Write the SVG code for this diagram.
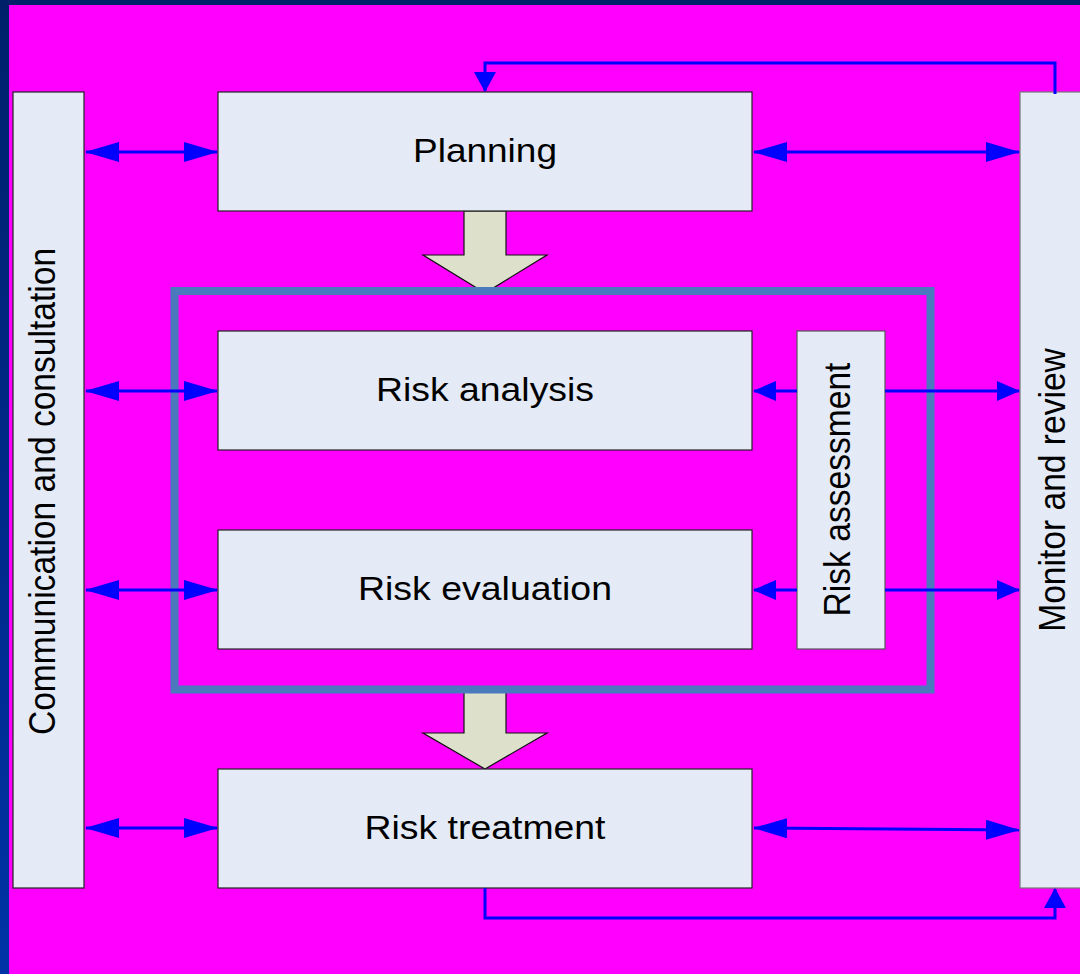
<svg xmlns="http://www.w3.org/2000/svg" width="1080" height="974" viewBox="0 0 1080 974">
<style>
.box{fill:#e4ebf6;stroke:#222;stroke-width:1.2}
.boxg{fill:#e4ebf6;stroke:#777;stroke-width:1.2}
.blk{fill:#dde1cc;stroke:#111;stroke-width:1.2}
.con{fill:none;stroke:#0000ff;stroke-width:3}
.t{font-family:"Liberation Sans",Arial,sans-serif;font-size:34px;fill:#000;text-anchor:middle}
</style>
<defs>
<linearGradient id="nav" x1="0" y1="0" x2="0" y2="1">
<stop offset="0" stop-color="#00206a"/>
<stop offset="1" stop-color="#0033a6"/>
</linearGradient>
<marker id="hb" viewBox="0 0 34 20" refX="33" refY="10" markerWidth="34" markerHeight="20" markerUnits="userSpaceOnUse" orient="auto-start-reverse">
<path d="M0,0 L34,10 L0,20 z" fill="#0000ff"/>
</marker>
<marker id="hs" viewBox="0 0 23 20" refX="22" refY="10" markerWidth="23" markerHeight="20" markerUnits="userSpaceOnUse" orient="auto-start-reverse">
<path d="M0,0 L23,10 L0,20 z" fill="#0000ff"/>
</marker>
<marker id="hv" viewBox="0 0 20 22" refX="19" refY="11" markerWidth="20" markerHeight="22" markerUnits="userSpaceOnUse" orient="auto-start-reverse">
<path d="M0,0 L20,11 L0,22 z" fill="#0000ff"/>
</marker>
</defs>
<rect x="0" y="0" width="1080" height="974" fill="url(#nav)"/>
<rect x="9" y="5" width="1071" height="969" fill="#ff00ff"/>

<g id="arrow-planning-down">
<polygon class="blk" points="464,211 506,211 506,255 547,255 485,293 423,255 464,255"/>
</g>
<g id="arrow-treatment-down">
<polygon class="blk" points="464,689 506,689 506,733 547,733 485,769 423,733 464,733"/>
</g>

<g id="risk-assessment-frame">
<rect x="174.5" y="291" width="756" height="398.5" fill="none" stroke="#4a7abd" stroke-width="8"/>
</g>

<g id="communication">
<rect class="box" x="13" y="92" width="71" height="796"/>
<text class="t" style="font-size:33.6px" transform="translate(55,491.5) scale(1.1,1) rotate(-90)">Communication and consultation</text>
</g>
<g id="monitor">
<rect class="boxg" x="1020" y="92" width="70" height="796"/>
<text class="t" style="font-size:33.6px" transform="translate(1065,490) scale(1.1,1) rotate(-90)">Monitor and review</text>
</g>
<g id="planning">
<rect class="box" x="218" y="92" width="534" height="119"/>
<text class="t" x="485" y="162" textLength="144" lengthAdjust="spacingAndGlyphs">Planning</text>
</g>
<g id="risk-analysis">
<rect class="box" x="218" y="331" width="534" height="119"/>
<text class="t" x="485" y="401" textLength="218" lengthAdjust="spacingAndGlyphs">Risk analysis</text>
</g>
<g id="risk-evaluation">
<rect class="box" x="218" y="530" width="534" height="119"/>
<text class="t" x="485" y="600" textLength="254" lengthAdjust="spacingAndGlyphs">Risk evaluation</text>
</g>
<g id="risk-assessment">
<rect class="boxg" x="797" y="331" width="88" height="318" style="stroke:#555"/>
<text class="t" style="font-size:33.6px" transform="translate(850,489.5) scale(1.1,1) rotate(-90)">Risk assessment</text>
</g>
<g id="risk-treatment">
<rect class="box" x="218" y="769" width="534" height="119"/>
<text class="t" x="485" y="839" textLength="241" lengthAdjust="spacingAndGlyphs">Risk treatment</text>
</g>

<g id="connectors">
<line class="con" x1="86" y1="152" x2="217" y2="152" marker-start="url(#hb)" marker-end="url(#hb)"/>
<line class="con" x1="86" y1="391" x2="217" y2="391" marker-start="url(#hb)" marker-end="url(#hb)"/>
<line class="con" x1="86" y1="590" x2="217" y2="590" marker-start="url(#hb)" marker-end="url(#hb)"/>
<line class="con" x1="86" y1="828" x2="217" y2="828" marker-start="url(#hb)" marker-end="url(#hb)"/>
<line class="con" x1="754" y1="152" x2="1019" y2="152" marker-start="url(#hb)" marker-end="url(#hb)"/>
<line class="con" x1="754" y1="828" x2="1019" y2="830" marker-start="url(#hb)" marker-end="url(#hb)"/>
<line class="con" x1="797" y1="391" x2="754" y2="391" marker-end="url(#hs)"/>
<line class="con" x1="797" y1="590" x2="754" y2="590" marker-end="url(#hs)"/>
<line class="con" x1="885" y1="391" x2="1019" y2="391" marker-end="url(#hs)"/>
<line class="con" x1="885" y1="590" x2="1019" y2="590" marker-end="url(#hs)"/>
<polyline class="con" points="1055,94 1055,63 485,63 485,91" marker-end="url(#hv)"/>
<polyline class="con" points="485,888 485,918 1055,918 1055,889" marker-end="url(#hv)"/>
</g>
</svg>
